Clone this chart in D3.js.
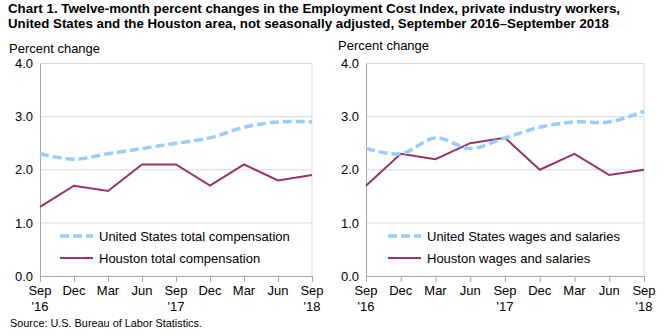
<!DOCTYPE html>
<html lang="en">
<head>
  <meta charset="UTF-8">
  <title>ECI twelve-month changes, Houston</title>
  <script src="https://d3js.org/d3.v7.min.js"></script>
  <style>
    body { margin: 0; background: #fff; }
    svg { display: block; font-family: "Liberation Sans", Arial, sans-serif; }
  </style>
</head>
<body>
<div id="chart"></div>
<script>
// quarters on the x axis
var months = ["Sep", "Dec", "Mar", "Jun", "Sep", "Dec", "Mar", "Jun", "Sep"];
var years  = ["'16", "", "", "", "'17", "", "", "", "'18"];
var yTicks = [0, 1, 2, 3, 4];

// total compensation (left panel)
var usTotal      = [2.3, 2.2, 2.3, 2.4, 2.5, 2.6, 2.8, 2.9, 2.9];
var houstonTotal = [1.3, 1.7, 1.6, 2.1, 2.1, 1.7, 2.1, 1.8, 1.9];

// wages and salaries (right panel)
var usWages      = [2.4, 2.3, 2.6, 2.4, 2.6, 2.8, 2.9, 2.9, 3.1];
var houstonWages = [1.7, 2.3, 2.2, 2.5, 2.6, 2.0, 2.3, 1.9, 2.0];

var W = 665, H = 335;
var blue = "#99ccff", plum = "#993366";

var svg = d3.select("#chart").append("svg")
  .attr("width", W)
  .attr("height", H);

// title
svg.append("text")
  .attr("x", 8).attr("y", 13)
  .style("font-size", "13.5px").style("font-weight", "bold")
  .attr("textLength", 612).attr("lengthAdjust", "spacingAndGlyphs")
  .text("Chart 1. Twelve-month percent changes in the Employment Cost  Index, private industry  workers,");
svg.append("text")
  .attr("x", 8).attr("y", 28)
  .style("font-size", "13.5px").style("font-weight", "bold")
  .attr("textLength", 601).attr("lengthAdjust", "spacingAndGlyphs")
  .text("United  States and the Houston  area, not seasonally  adjusted,  September 2016\u2013September 2018");

svg.append("text")
  .attr("x", 10).attr("y", 327)
  .style("font-size", "11px")
  .attr("textLength", 192).attr("lengthAdjust", "spacingAndGlyphs")
  .text("Source: U.S.  Bureau of Labor Statistics.");

function panel(opts) {
  var x = d3.scalePoint()
    .domain(d3.range(months.length))
    .range([opts.x0, opts.x1]);
  var y = d3.scaleLinear()
    .domain([0, 4])
    .range([276, 63.5]);

  var g = svg.append("g");

  g.append("text")
    .attr("x", opts.labelX).attr("y", opts.labelY)
    .style("font-size", "13px")
    .text("Percent change");

  // grid
  g.selectAll(".grid")
    .data(yTicks.slice(1))
    .enter().append("line")
    .attr("x1", opts.x0).attr("x2", opts.x1)
    .attr("y1", function(d) { return y(d); })
    .attr("y2", function(d) { return y(d); })
    .attr("stroke", "#d9d9d9").attr("stroke-width", 1);

  // right edge
  g.append("line")
    .attr("x1", opts.x1).attr("x2", opts.x1)
    .attr("y1", y(4)).attr("y2", y(0))
    .attr("stroke", "#d9d9d9");

  // y axis
  var ya = g.append("g")
    .attr("transform", "translate(" + opts.x0 + ",0)")
    .call(d3.axisLeft(y).tickValues(yTicks).tickFormat(d3.format(".1f")).tickSize(0).tickPadding(7));
  ya.select(".domain").attr("stroke", "#a6a6a6");
  ya.selectAll("text").style("font-size", "13px").attr("fill", "#000")
    .style("font-family", "Liberation Sans, Arial, sans-serif");

  // x axis
  var xa = g.append("g")
    .attr("transform", "translate(0," + y(0) + ")")
    .call(d3.axisBottom(x).tickSize(6).tickSizeOuter(0).tickFormat(function() { return ""; }));
  xa.select(".domain").attr("stroke", "#a6a6a6");
  xa.selectAll(".tick line").attr("stroke", "#a6a6a6");
  xa.selectAll(".tick text").remove();

  var lbl = g.selectAll(".xl")
    .data(months)
    .enter().append("text")
    .attr("text-anchor", "middle")
    .style("font-size", "13px");
  lbl.append("tspan")
    .attr("x", function(d, i) { return x(i); })
    .attr("y", 295)
    .text(function(d) { return d; });
  lbl.append("tspan")
    .attr("x", function(d, i) { return x(i); })
    .attr("y", 311)
    .text(function(d, i) { return years[i]; });

  // series
  var smooth = d3.line()
    .x(function(d, i) { return x(i); })
    .y(function(d) { return y(d); })
    .curve(d3.curveCatmullRom.alpha(0.5));
  var straight = d3.line()
    .x(function(d, i) { return x(i); })
    .y(function(d) { return y(d); });

  g.append("path")
    .attr("d", straight(opts.houston))
    .attr("fill", "none")
    .attr("stroke", plum).attr("stroke-width", 2);
  g.append("path")
    .attr("d", smooth(opts.us))
    .attr("fill", "none")
    .attr("stroke", blue).attr("stroke-width", 3.5)
    .attr("stroke-dasharray", "9,4");

  // legend
  var lx = opts.legendX;
  g.append("line")
    .attr("x1", lx).attr("x2", lx + 33)
    .attr("y1", 236).attr("y2", 236)
    .attr("stroke", blue).attr("stroke-width", 3.5)
    .attr("stroke-dasharray", "9,4");
  g.append("text")
    .attr("x", lx + 39).attr("y", 241)
    .style("font-size", "13px")
    .text(opts.usLabel);
  g.append("line")
    .attr("x1", lx).attr("x2", lx + 33)
    .attr("y1", 258).attr("y2", 258)
    .attr("stroke", plum).attr("stroke-width", 2);
  g.append("text")
    .attr("x", lx + 39).attr("y", 263)
    .style("font-size", "13px")
    .text(opts.houstonLabel);
}

panel({
  x0: 40, x1: 312, labelX: 9, labelY: 53, legendX: 60,
  us: usTotal, houston: houstonTotal,
  usLabel: "United States total compensation",
  houstonLabel: "Houston total compensation"
});

panel({
  x0: 366, x1: 644, labelX: 338, labelY: 50, legendX: 388,
  us: usWages, houston: houstonWages,
  usLabel: "United States wages and salaries",
  houstonLabel: "Houston wages and salaries"
});
</script>
</body>
</html>
